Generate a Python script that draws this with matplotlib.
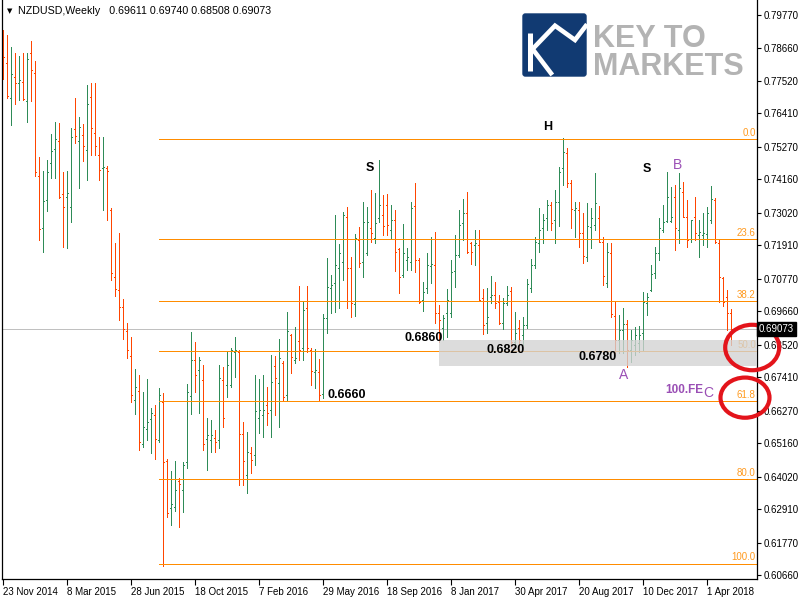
import numpy as np
import matplotlib
matplotlib.use('Agg')
import matplotlib.pyplot as plt
from matplotlib.collections import LineCollection
from matplotlib.patches import Rectangle, Ellipse, FancyBboxPatch
import matplotlib.transforms as mtransforms

plt.rcParams['font.family'] = ['Liberation Sans', 'DejaVu Sans']

# ---------------- data (weekly NZDUSD OHLC) ----------------
opens = [
    0.7905,0.7813,0.7694,0.7765,0.7745,0.7748,0.7684,0.7847,0.7779,0.7428,
    0.7251,0.7346,0.7472,0.7520,0.7547,0.7366,0.7356,0.7322,0.7588,0.7547,
    0.7568,0.7516,0.7697,0.7575,0.7499,0.7455,0.7455,0.7312,0.7083,0.7039,
    0.6981,0.6899,0.6814,0.6664,0.6695,0.6514,0.6565,0.6599,0.6613,0.6528,
    0.6657,0.6456,0.6296,0.6299,0.6388,0.6357,0.6453,0.6678,0.6800,0.6766,
    0.6732,0.6531,0.6528,0.6534,0.6528,0.6732,0.6715,0.6715,0.6828,0.6828,
    0.6548,0.6408,0.6483,0.6476,0.6603,0.6613,0.6647,0.6630,0.6780,0.6722,
    0.6790,0.6681,0.6886,0.6800,0.6865,0.6841,0.6978,0.6834,0.6760,0.6760,
    0.6684,0.6944,0.7046,0.7063,0.7114,0.7135,0.7288,0.7114,0.6991,0.7210,
    0.7135,0.7165,0.7251,0.7216,0.7285,0.7295,0.7329,0.7244,0.7278,0.7179,
    0.7090,0.7141,0.7135,0.7326,0.7141,0.7005,0.7046,0.7121,0.7124,0.6961,
    0.6910,0.6961,0.6961,0.7104,0.7158,0.7268,0.7302,0.7199,0.7193,0.7193,
    0.7012,0.6927,0.7015,0.7022,0.6998,0.6927,0.6995,0.7036,0.6862,0.6910,
    0.6886,0.6920,0.7046,0.7124,0.7199,0.7251,0.7285,0.7329,0.7278,0.7339,
    0.7455,0.7506,0.7404,0.7312,0.7312,0.7233,0.7152,0.7254,0.7261,0.7285,
    0.7203,0.7063,0.7165,0.6950,0.6869,0.6903,0.6923,0.6834,0.6851,0.6858,
    0.6892,0.6995,0.7039,0.7097,0.7165,0.7244,0.7274,0.7274,0.7356,0.7244,
    0.7373,0.7288,0.7213,0.7288,0.7227,0.7227,0.7230,0.7278,0.7346,0.7199,
    0.7080,0.7015,0.69611]
highs = [
    0.7926,0.7909,0.7868,0.7847,0.7837,0.7847,0.7847,0.7888,0.7820,0.7493,
    0.7445,0.7482,0.7571,0.7612,0.7609,0.7441,0.7445,0.7592,0.7694,0.7629,
    0.7605,0.7738,0.7745,0.7745,0.7561,0.7561,0.7462,0.7319,0.7199,0.7233,
    0.7008,0.6927,0.6879,0.6770,0.6749,0.6691,0.6736,0.6637,0.6647,0.6705,
    0.6688,0.6463,0.6422,0.6456,0.6398,0.6453,0.6719,0.6896,0.6862,0.6811,
    0.6783,0.6603,0.6596,0.6562,0.6783,0.6777,0.6831,0.6841,0.6879,0.6834,
    0.6589,0.6555,0.6504,0.6749,0.6736,0.6749,0.6708,0.6817,0.6814,0.6872,
    0.6797,0.6964,0.6889,0.6913,0.7053,0.6998,0.7053,0.6841,0.6838,0.6804,
    0.6957,0.7148,0.7090,0.7295,0.7196,0.7305,0.7322,0.7152,0.7230,0.7254,
    0.7339,0.7322,0.7380,0.7370,0.7482,0.7363,0.7366,0.7329,0.7312,0.7182,
    0.7264,0.7182,0.7339,0.7404,0.7148,0.7066,0.7165,0.7220,0.7237,0.6988,
    0.6954,0.7043,0.7141,0.7227,0.7312,0.7349,0.7373,0.7203,0.7244,0.7244,
    0.7043,0.7046,0.7087,0.7066,0.7022,0.7012,0.7053,0.7049,0.6964,0.6937,
    0.6947,0.7077,0.7145,0.7220,0.7319,0.7298,0.7346,0.7339,0.7380,0.7459,
    0.7557,0.7523,0.7414,0.7339,0.7339,0.7302,0.7336,0.7319,0.7438,0.7326,
    0.7220,0.7199,0.7199,0.6998,0.6954,0.6978,0.6937,0.6903,0.6913,0.6916,
    0.7032,0.7029,0.7124,0.7186,0.7285,0.7329,0.7441,0.7390,0.7397,0.7438,
    0.7407,0.7346,0.7278,0.7356,0.7278,0.7302,0.7322,0.7394,0.7353,0.7213,
    0.7083,0.7039,0.69740]
lows = [
    0.7759,0.7694,0.7602,0.7673,0.7687,0.7687,0.7612,0.7684,0.7428,0.7210,
    0.7169,0.7309,0.7421,0.7421,0.7353,0.7186,0.7182,0.7271,0.7540,0.7387,
    0.7479,0.7414,0.7499,0.7499,0.7414,0.7312,0.7278,0.7073,0.7019,0.6937,
    0.6872,0.6807,0.6657,0.6616,0.6494,0.6504,0.6528,0.6483,0.6463,0.6521,
    0.6098,0.6265,0.6238,0.6286,0.6231,0.6282,0.6432,0.6616,0.6691,0.6620,
    0.6494,0.6425,0.6487,0.6487,0.6500,0.6572,0.6674,0.6708,0.6742,0.6374,
    0.6374,0.6347,0.6415,0.6442,0.6551,0.6538,0.6579,0.6538,0.6613,0.6572,
    0.6664,0.6664,0.6756,0.6790,0.6800,0.6800,0.6828,0.6715,0.6705,0.6664,
    0.6671,0.6892,0.6961,0.6964,0.6978,0.7073,0.6978,0.6947,0.6950,0.7118,
    0.7083,0.7158,0.7203,0.7199,0.7271,0.7227,0.7227,0.7216,0.7104,0.7029,
    0.7083,0.7107,0.7107,0.7101,0.6995,0.6968,0.7029,0.7063,0.6927,0.6862,
    0.6869,0.6879,0.6947,0.7049,0.7152,0.7210,0.7165,0.7128,0.7124,0.7002,
    0.6889,0.6892,0.6995,0.6978,0.6923,0.6906,0.6988,0.6841,0.6841,0.6834,
    0.6851,0.6910,0.7032,0.7114,0.7169,0.7199,0.7244,0.7244,0.7199,0.7257,
    0.7397,0.7390,0.7251,0.7220,0.7186,0.7131,0.7138,0.7182,0.7244,0.7203,
    0.7056,0.7049,0.6947,0.6824,0.6824,0.6824,0.6777,0.6794,0.6817,0.6828,
    0.6834,0.6954,0.7036,0.7080,0.7141,0.7237,0.7271,0.7271,0.7176,0.7199,
    0.7288,0.7186,0.7203,0.7210,0.7152,0.7193,0.7186,0.7268,0.7199,0.6998,
    0.6985,0.6903,0.68508]
closes = [
    0.7834,0.7701,0.7776,0.7745,0.7755,0.7690,0.7827,0.7789,0.7441,0.7247,
    0.7343,0.7441,0.7513,0.7554,0.7356,0.7322,0.7370,0.7561,0.7564,0.7595,
    0.7530,0.7673,0.7592,0.7530,0.7448,0.7459,0.7445,0.7097,0.7043,0.6981,
    0.6906,0.6834,0.6681,0.6708,0.6521,0.6572,0.6589,0.6620,0.6531,0.6681,
    0.6453,0.6279,0.6309,0.6357,0.6378,0.6442,0.6691,0.6800,0.6749,0.6800,
    0.6514,0.6545,0.6545,0.6521,0.6739,0.6603,0.6783,0.6834,0.6834,0.6548,
    0.6456,0.6487,0.6459,0.6627,0.6630,0.6630,0.6620,0.6725,0.6739,0.6807,
    0.6674,0.6899,0.6811,0.6807,0.6834,0.6971,0.6841,0.6763,0.6766,0.6681,
    0.6944,0.7049,0.7056,0.7124,0.7165,0.7295,0.7114,0.6995,0.7216,0.7131,
    0.7271,0.7271,0.7233,0.7268,0.7329,0.7257,0.7261,0.7278,0.7169,0.7083,
    0.7165,0.7152,0.7319,0.7141,0.6998,0.7032,0.7124,0.7128,0.6961,0.6937,
    0.6944,0.7005,0.7101,0.7158,0.7261,0.7302,0.7169,0.7169,0.7199,0.7005,
    0.6920,0.6947,0.7022,0.6995,0.6927,0.6995,0.7022,0.6862,0.6892,0.6869,
    0.6920,0.7060,0.7124,0.7203,0.7244,0.7278,0.7329,0.7268,0.7339,0.7441,
    0.7510,0.7404,0.7315,0.7319,0.7233,0.7155,0.7257,0.7285,0.7336,0.7203,
    0.7087,0.7169,0.6957,0.6869,0.6903,0.6923,0.6834,0.6869,0.6886,0.6886,
    0.6998,0.7015,0.7094,0.7165,0.7251,0.7271,0.7356,0.7288,0.7251,0.7387,
    0.7288,0.7210,0.7278,0.7233,0.7237,0.7233,0.7302,0.7349,0.7203,0.7083,
    0.6998,0.6961,0.69073]

date_labels = ['23 Nov 2014', '8 Mar 2015', '28 Jun 2015', '18 Oct 2015', '7 Feb 2016',
               '29 May 2016', '18 Sep 2016', '8 Jan 2017', '30 Apr 2017', '20 Aug 2017',
               '10 Dec 2017', '1 Apr 2018']
date_bars = [0, 16, 32, 48, 64, 80, 96, 112, 128, 144, 160, 176]

price_ticks = [0.79770, 0.78660, 0.77520, 0.76410, 0.75270, 0.74160, 0.73020, 0.71910,
               0.70770, 0.69660, 0.68520, 0.67410, 0.66270, 0.65160, 0.64020, 0.62910,
               0.61770, 0.60660]

fib_levels = [0.0, 23.6, 38.2, 50.0, 61.8, 80.0, 100.0]
fib_high = 0.7554
fib_low = 0.6106
fib_start_bar = 39

zone_start_bar = 109
zone_top = 0.6869
zone_bottom = 0.6780

# annotations: text, bar position, price, colour, weight, size
notes = [
    ('S', 91.75, 0.7455, 'black', 'bold', 9),
    ('H', 136.25, 0.7595, 'black', 'bold', 9),
    ('S', 161.0, 0.7452, 'black', 'bold', 9),
    ('B', 168.75, 0.7465, '#9a4fb5', 'normal', 10),
    ('A', 155.25, 0.6750, '#9a4fb5', 'normal', 10),
    ('100.FE', 170.3, 0.6697, '#9a4fb5', 'bold', 8.5),
    ('C', 176.2, 0.6689, '#9a4fb5', 'normal', 10),
    ('0.6860', 105.1, 0.6874, 'black', 'bold', 9),
    ('0.6820', 125.6, 0.6833, 'black', 'bold', 9),
    ('0.6780', 148.7, 0.6811, 'black', 'bold', 9),
    ('0.6660', 85.9, 0.6682, 'black', 'bold', 9),
]

# ---------------- figure ----------------
fig = plt.figure(figsize=(8, 6), dpi=100)
fig.patch.set_facecolor('white')
ax = fig.add_axes([2 / 800, 21 / 600, 755 / 800, 579 / 600])
XMAX = 188.5
ax.set_xlim(-0.25, XMAX)
ax.set_ylim(0.60536, 0.8028)

o = np.array(opens); h = np.array(highs); l = np.array(lows); c = np.array(closes)
n = len(o)
segs, cols = [], []
for i in range(n):
    col = '#2e8b57' if c[i] >= o[i] else '#ff4500'
    segs += [[(i, l[i]), (i, h[i])], [(i - 0.28, o[i]), (i, o[i])], [(i, c[i]), (i + 0.28, c[i])]]
    cols += [col] * 3
lc = LineCollection(segs, colors=cols, linewidths=0.72, antialiaseds=False,
                    capstyle='butt', zorder=2)
ax.add_collection(lc)

# fibonacci retracement
for lv in fib_levels:
    p = fib_high - (fib_high - fib_low) * lv / 100.0
    ax.hlines(p, fib_start_bar, XMAX, color='#ff8c00', lw=0.72, antialiased=False,
              zorder=2.5)
    ax.text(188.2, p + 0.0004, f'{lv:.1f}', ha='right', va='bottom', fontsize=7,
            color='#ff9a1f', zorder=2.5)

# current price line
ax.axhline(closes[-1], color='#c0c0c0', lw=0.72, antialiased=False, zorder=1.5)

# support zone
ax.add_patch(Rectangle((zone_start_bar, zone_bottom), XMAX + 2 - zone_start_bar,
                       zone_top - zone_bottom, facecolor='#d3d3d3', edgecolor='none',
                       alpha=0.78, zorder=3))

for txt, xb, yp, col, wt, fs in notes:
    ax.text(xb, yp, txt, ha='center', va='center', color=col, fontweight=wt,
            fontsize=fs, zorder=4)

# red circles
ax.add_patch(Ellipse((187.3, 0.6843), 13.5, 0.0155, fill=False, edgecolor='#e3141b',
                     lw=3.0, clip_on=False, zorder=6))
ax.add_patch(Ellipse((185.5, 0.6672), 12.25, 0.0137, fill=False, edgecolor='#e3141b',
                     lw=3.0, clip_on=False, zorder=6))

# axes styling
for s in ['left', 'bottom', 'right']:
    ax.spines[s].set_color('black'); ax.spines[s].set_linewidth(0.9)
ax.spines['top'].set_visible(False)
ax.yaxis.tick_right()
ax.set_yticks(price_ticks)
ax.set_yticklabels([f'{v:.5f}' for v in price_ticks], fontsize=7)
ax.tick_params(axis='y', length=3, width=0.8, pad=2, direction='out')
ax.set_xticks(date_bars)
ax.set_xticklabels(date_labels, fontsize=7, ha='left')
ax.tick_params(axis='x', length=4, width=0.8, pad=2, direction='out')

# current price box on the axis
trans = mtransforms.blended_transform_factory(ax.transAxes, ax.transData)
ax.text(1.0 + 2 / 755, closes[-1], f'{closes[-1]:.5f}', transform=trans, ha='left',
        va='center', fontsize=7, color='white', clip_on=False, zorder=7,
        bbox=dict(boxstyle='square,pad=0.2', fc='black', ec='black'))

# title
fig.text(18 / 800, 1 - 11 / 600, 'NZDUSD,Weekly   0.69611 0.69740 0.68508 0.69073',
         fontsize=7.7, va='center', ha='left', color='black')
fig.text(10 / 800, 1 - 11 / 600, '\u25bc', fontsize=5, family='DejaVu Sans',
         ha='center', va='center', color='black')

# logo
lax = fig.add_axes([522 / 800, (600 - 77) / 600, 65 / 800, 64 / 600])
lax.set_xlim(0, 65); lax.set_ylim(64, 0); lax.axis('off')
lax.add_patch(FancyBboxPatch((0.3, 0.3), 64.4, 63.4,
                             boxstyle='round,pad=0,rounding_size=3',
                             fc='#113a72', ec='none'))
lax.plot([7.8, 7.8], [20.3, 58], color='white', lw=3.6, solid_capstyle='butt')
lax.plot([11.3, 30.3], [37, 62], color='white', lw=3.3, solid_capstyle='butt')
lax.plot([10.3, 33, 53, 65], [36.3, 12.7, 27, 11.3], color='white', lw=3.3,
         solid_joinstyle='miter', solid_capstyle='butt', clip_on=True)
fig.text(593 / 800, 1 - 24 / 600, 'KEY TO\nMARKETS', fontsize=22, fontweight='bold',
         color='#b3b3b3', ha='left', va='top', linespacing=0.92)

fig.savefig('out.png', dpi=100, facecolor='white')
